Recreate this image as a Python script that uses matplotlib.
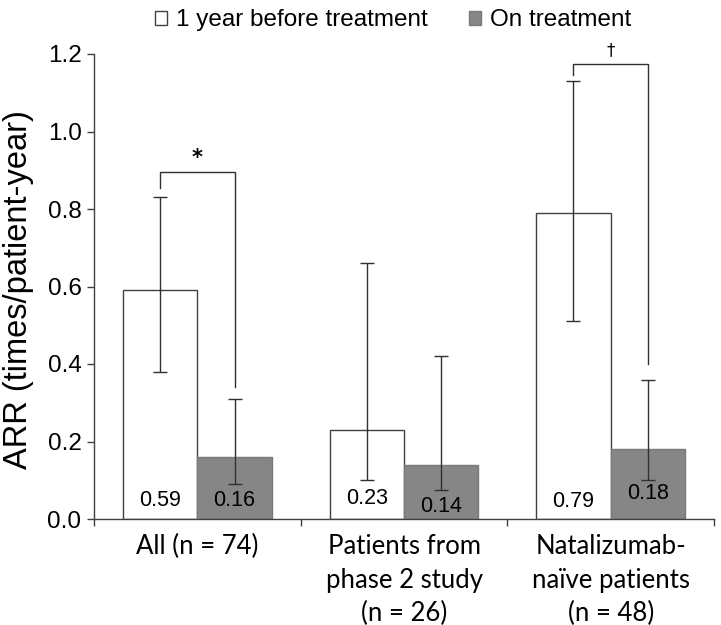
import matplotlib
matplotlib.use("Agg")
import matplotlib.pyplot as plt
from matplotlib.patches import Patch
import numpy as np

categories = ["All (n = 74)", "Patients from\nphase 2 study\n(n = 26)", "Natalizumab-\nnaïve patients\n(n = 48)"]
series_names = ["1 year before treatment", "On treatment"]
before_vals = [0.59, 0.23, 0.79]
before_low = [0.38, 0.10, 0.51]
before_high = [0.83, 0.66, 1.13]
on_vals = [0.16, 0.14, 0.18]
on_low = [0.09, 0.075, 0.10]
on_high = [0.31, 0.42, 0.36]
value_labels_before = ["0.59", "0.23", "0.79"]
value_labels_on = ["0.16", "0.14", "0.18"]
y_ticks = [0.0, 0.2, 0.4, 0.6, 0.8, 1.0, 1.2]
y_tick_labels = ["0.0", "0.2", "0.4", "0.6", "0.8", "1.0", "1.2"]
bracket_groups = [0, 2]
bracket_top = [0.895, 1.174]
bracket_left_end = [0.854, 1.146]
bracket_right_end = [0.34, 0.40]
bracket_symbols = ["*", "†"]

# label placement (layout, not data)
label_y_before = [0.049, 0.052, 0.046]
label_y_on = [0.049, 0.031, 0.067]

fig = plt.figure(figsize=(7.21, 6.25), dpi=100)
ax = fig.add_axes([94/721, 1-519/625, (714-94)/721, (519-54)/625])

x = np.arange(len(categories))
w = 0.36
edge = "#404040"
xb = x - w/2
xo = x + w/2
ax.bar(xb, before_vals, width=w, color="white", edgecolor=edge, linewidth=1.0, zorder=2)
ax.bar(xo, on_vals, width=w, color="#868686", edgecolor="#7a7a7a", linewidth=1.0, zorder=2)

bv = np.array(before_vals); ov = np.array(on_vals)
ax.errorbar(xb, bv, yerr=[bv-np.array(before_low), np.array(before_high)-bv], fmt="none",
            ecolor="#303030", elinewidth=1.0, capsize=5, capthick=1.0, zorder=3)
ax.errorbar(xo, ov, yerr=[ov-np.array(on_low), np.array(on_high)-ov], fmt="none",
            ecolor="#303030", elinewidth=1.0, capsize=5, capthick=1.0, zorder=3)

for i in range(len(categories)):
    ax.text(xb[i], label_y_before[i], value_labels_before[i], ha="center", va="center",
            fontsize=15.5, family="Liberation Sans", zorder=4)
    ax.text(xo[i], label_y_on[i], value_labels_on[i], ha="center", va="center",
            fontsize=15.5, family="Liberation Sans", zorder=4)

for g, top, le, re, sym in zip(bracket_groups, bracket_top, bracket_left_end, bracket_right_end, bracket_symbols):
    ax.plot([xb[g], xb[g], xo[g], xo[g]], [le, top, top, re], color="#303030", lw=1.0, zorder=3,
            solid_joinstyle="miter")
    ax.text(x[g], top + 0.012, sym, ha="center", va="bottom", fontsize=15 if sym == "*" else 12,
            family="DejaVu Sans", fontweight="bold" if sym == "*" else "normal")

ax.set_xlim(-0.5, 2.5)
ax.set_ylim(0, 1.2)
ax.set_yticks(y_ticks)
ax.set_yticklabels(y_tick_labels, fontsize=17.5, family="Liberation Sans")
ax.set_xticks([-0.5, 0.5, 1.5, 2.5])
ax.set_xticklabels([])
ax.set_xticks(x, minor=True)
ax.set_xticklabels(categories, minor=True, fontsize=18.5, family="Lato", linespacing=1.42)
ax.tick_params(axis="x", which="minor", length=0, pad=11)
ax.tick_params(axis="x", which="major", length=5, width=1, color=edge, direction="out")
ax.tick_params(axis="y", length=5, width=1, color=edge, direction="out", pad=4)
for s in ["top", "right"]:
    ax.spines[s].set_visible(False)
for s in ["left", "bottom"]:
    ax.spines[s].set_color(edge)
    ax.spines[s].set_linewidth(1.0)

fig.text(19/721, 1-290/625, "ARR (times/patient-year)", rotation=90, ha="center", va="center",
         fontsize=23.5, family="Liberation Sans")

handles = [Patch(facecolor="white", edgecolor=edge, linewidth=1.0),
           Patch(facecolor="#868686", edgecolor="#7a7a7a", linewidth=1.0)]
fig.legend(handles, series_names, loc="upper center", bbox_to_anchor=(0.545, 1.02), ncol=2,
           frameon=False, prop={"family": "Liberation Sans", "size": 17.5},
           handlelength=0.5, handleheight=0.5, handletextpad=0.35, columnspacing=1.7)

fig.savefig("out.png", dpi=100)
